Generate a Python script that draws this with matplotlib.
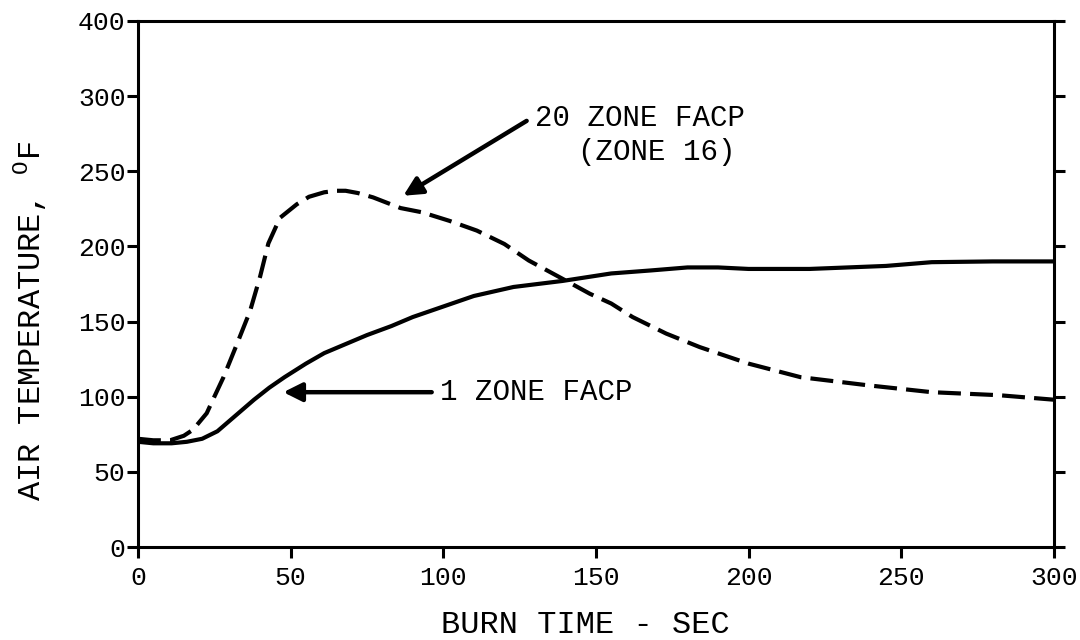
import numpy as np
import matplotlib
matplotlib.use("Agg")
import matplotlib.pyplot as plt

plt.rcParams["font.family"] = ["Liberation Mono", "DejaVu Sans"]
plt.rcParams["mathtext.fontset"] = "custom"
plt.rcParams["mathtext.rm"] = "Liberation Mono"

# 1 ZONE FACP (solid)
t_1zona = [0, 5, 11, 16, 21, 26, 30, 34, 38, 43, 48, 55, 61, 68, 75, 83, 90,
           100, 110, 123, 139, 155, 168, 180, 190, 200, 220, 245, 260, 280, 300]
temp_1zona = [70, 69, 69, 70, 72, 77, 84, 91, 98, 106, 113, 122, 129, 135, 141,
              147, 153, 160, 167, 173, 177, 182, 184, 186, 186, 185, 185, 187,
              189.5, 190, 190]

# 20 ZONE FACP, zona 16 (dashed)
t_20zona = [0, 5, 10.5, 15, 18, 22.5, 25, 28, 32, 36.7, 40, 42.7, 46.5, 52, 56,
            61, 65, 68, 72, 77, 86, 93, 102, 111, 120, 128, 139, 148, 155, 162,
            173, 184, 200, 217, 239, 260, 282, 300]
temp_20zona = [72, 71, 71, 74, 78, 89, 100, 113, 133, 157, 180, 202, 219, 228,
               233, 236, 237, 237, 235.5, 232.6, 225.5, 222.7, 217, 210.5, 201.6,
               190.6, 178.5, 168.5, 162, 153, 142, 133, 122, 113, 107.6, 103,
               101, 98]

# el eje original esta "comprimido" arriba: la marca 400 cae donde iria 350
YTICKS = [0, 50, 100, 150, 200, 250, 300, 350]
YTICK_LABELS = ["0", "50", "100", "150", "200", "250", "300", "400"]
XTICKS = [0, 50, 100, 150, 200, 250, 300]

fig = plt.figure(figsize=(10.8, 6.4), dpi=100)
ax = fig.add_axes([0.1278, 0.1453, 0.848, 0.822])

ax.plot(t_1zona, temp_1zona, color="black", lw=3, solid_joinstyle="round",
        solid_capstyle="round")
ax.plot(t_20zona, temp_20zona, color="black", lw=3, linestyle=(0, (5.5, 2.2)),
        dash_joinstyle="round")

ax.set_xlim(0, 300)
ax.set_ylim(0, 350)
ax.set_xticks(XTICKS)
ax.set_yticks(YTICKS)
ax.set_yticklabels(YTICK_LABELS)

for s in ax.spines.values():
    s.set_linewidth(2.2)
ax.tick_params(axis="both", direction="out", length=8, width=2.2,
               labelsize=19, pad=2)
ax.tick_params(axis="y", right=True, pad=1)
ax.tick_params(axis="x", pad=6)

ax.set_xlabel("BURN TIME - SEC", fontsize=23)
ax.set_ylabel(r"AIR TEMPERATURE, $^{\rm O}$F", fontsize=23)
ax.xaxis.set_label_coords(0.488, -0.12)
ax.yaxis.set_label_coords(-0.097, 0.43)

flecha = dict(arrowstyle="-|>", color="black", lw=3.2, mutation_scale=28,
              shrinkA=0, shrinkB=0)
ax.annotate("", xy=(86.9, 233.7), xytext=(127.3, 283.5), arrowprops=flecha)
ax.annotate("", xy=(47.6, 103), xytext=(96.2, 103), arrowprops=flecha)

ax.text(130, 285.5, "20 ZONE FACP", fontsize=21, ha="left", va="center")
ax.text(144, 263, "(ZONE 16)", fontsize=21, ha="left", va="center")
ax.text(99, 103, "1 ZONE FACP", fontsize=21, ha="left", va="center")

fig.savefig("out.png", dpi=100)
